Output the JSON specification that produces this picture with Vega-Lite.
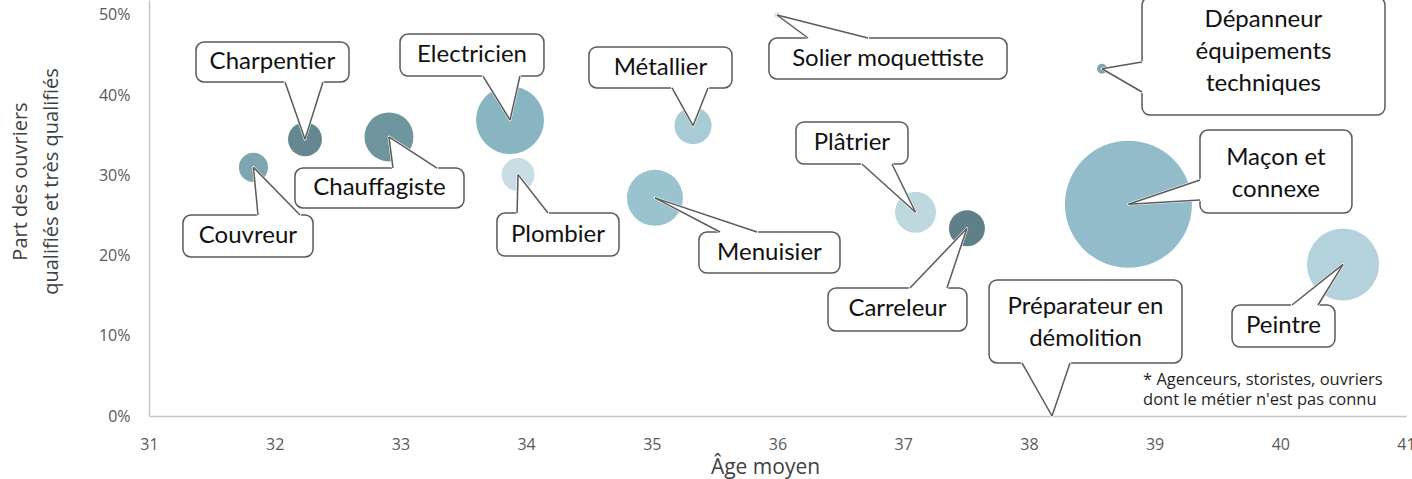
{
  "$schema": "https://vega.github.io/schema/vega-lite/v6.json",
  "width": 1257,
  "height": 416,
  "autosize": {"type": "none"},
  "padding": {"left": 149, "top": 0, "right": 6, "bottom": 63},
  "background": "white",
  "config": {"view": {"stroke": null}},
  "datasets": {
    "metiers": [
      {"metier": "Couvreur", "age": 31.831, "part": 0.310, "effectif": 5.3},
      {"metier": "Charpentier", "age": 32.241, "part": 0.345, "effectif": 7.2},
      {"metier": "Chauffagiste", "age": 32.909, "part": 0.348, "effectif": 15.0},
      {"metier": "Electricien", "age": 33.872, "part": 0.369, "effectif": 28.9},
      {"metier": "Plombier", "age": 33.936, "part": 0.301, "effectif": 6.8},
      {"metier": "Métallier", "age": 35.328, "part": 0.362, "effectif": 8.6},
      {"metier": "Menuisier", "age": 35.025, "part": 0.272, "effectif": 19.6},
      {"metier": "Solier moquettiste", "age": 35.996, "part": 0.500, "effectif": 0.2},
      {"metier": "Plâtrier", "age": 37.098, "part": 0.254, "effectif": 10.5},
      {"metier": "Carreleur", "age": 37.507, "part": 0.234, "effectif": 8.1},
      {"metier": "Dépanneur équipements techniques", "age": 38.581, "part": 0.433, "effectif": 0.6},
      {"metier": "Maçon et connexe", "age": 38.792, "part": 0.264, "effectif": 100.8},
      {"metier": "Peintre", "age": 40.499, "part": 0.189, "effectif": 32.4},
      {"metier": "Préparateur en démolition", "age": 38.184, "part": 0.0, "effectif": 0}
    ],
    "boxes": [
      {"label": "Charpentier", "x1": 31.374, "x2": 32.591, "y1": 0.4663, "y2": 0.4165, "xc": 31.982, "yc": 0.4414},
      {"label": "Electricien", "x1": 32.997, "x2": 34.142, "y1": 0.4763, "y2": 0.4239, "xc": 33.570, "yc": 0.4501},
      {"label": "Couvreur", "x1": 31.270, "x2": 32.305, "y1": 0.2506, "y2": 0.1983, "xc": 31.787, "yc": 0.2244},
      {"label": "Chauffagiste", "x1": 32.161, "x2": 33.506, "y1": 0.3092, "y2": 0.2594, "xc": 32.833, "yc": 0.2843},
      {"label": "Plombier", "x1": 33.768, "x2": 34.739, "y1": 0.2531, "y2": 0.1995, "xc": 34.253, "yc": 0.2263},
      {"label": "Métallier", "x1": 34.500, "x2": 35.638, "y1": 0.4601, "y2": 0.4090, "xc": 35.069, "yc": 0.4345},
      {"label": "Solier moquettiste", "x1": 35.932, "x2": 37.826, "y1": 0.4713, "y2": 0.4202, "xc": 36.879, "yc": 0.4457},
      {"label": "Menuisier", "x1": 35.375, "x2": 36.497, "y1": 0.2294, "y2": 0.1783, "xc": 35.936, "yc": 0.2038},
      {"label": "Plâtrier", "x1": 36.147, "x2": 37.038, "y1": 0.3666, "y2": 0.3142, "xc": 36.592, "yc": 0.3404},
      {"label": "Carreleur", "x1": 36.402, "x2": 37.507, "y1": 0.1596, "y2": 0.1060, "xc": 36.954, "yc": 0.1328},
      {"label": "Préparateur en\ndémolition", "x1": 37.683, "x2": 39.218, "y1": 0.1696, "y2": 0.0661, "xc": 38.450, "yc": 0.1359},
      {"label": "Dépanneur\néquipements\ntechniques", "x1": 38.900, "x2": 40.833, "y1": 0.5224, "y2": 0.3753, "xc": 39.866, "yc": 0.4938},
      {"label": "Maçon et\nconnexe", "x1": 39.361, "x2": 40.570, "y1": 0.3566, "y2": 0.2531, "xc": 39.965, "yc": 0.3217},
      {"label": "Peintre", "x1": 39.616, "x2": 40.435, "y1": 0.1384, "y2": 0.0860, "xc": 40.025, "yc": 0.1122}
    ],
    "tailsH": [
      {"id": "Charpentier", "y": 0.4165, "x": 32.082, "x2": 32.384},
      {"id": "Charpentier", "y": 0.345, "x": 32.241, "x2": 32.241},
      {"id": "Electricien", "y": 0.4239, "x": 33.657, "x2": 33.951},
      {"id": "Electricien", "y": 0.369, "x": 33.872, "x2": 33.872},
      {"id": "Couvreur", "y": 0.2506, "x": 31.867, "x2": 32.201},
      {"id": "Couvreur", "y": 0.310, "x": 31.831, "x2": 31.831},
      {"id": "Chauffagiste", "y": 0.3092, "x": 32.941, "x2": 33.291},
      {"id": "Chauffagiste", "y": 0.348, "x": 32.909, "x2": 32.909},
      {"id": "Plombier", "y": 0.2531, "x": 33.928, "x2": 34.174},
      {"id": "Plombier", "y": 0.301, "x": 33.936, "x2": 33.936},
      {"id": "Métallier", "y": 0.4090, "x": 35.161, "x2": 35.447},
      {"id": "Métallier", "y": 0.362, "x": 35.328, "x2": 35.328},
      {"id": "Solier", "y": 0.4713, "x": 36.243, "x2": 36.720},
      {"id": "Solier", "y": 0.500, "x": 35.996, "x2": 35.996},
      {"id": "Menuisier", "y": 0.2294, "x": 35.543, "x2": 35.837},
      {"id": "Menuisier", "y": 0.272, "x": 35.025, "x2": 35.025},
      {"id": "Plâtrier", "y": 0.3142, "x": 36.672, "x2": 36.911},
      {"id": "Plâtrier", "y": 0.254, "x": 37.098, "x2": 37.098},
      {"id": "Carreleur", "y": 0.1596, "x": 37.054, "x2": 37.348},
      {"id": "Carreleur", "y": 0.234, "x": 37.507, "x2": 37.507},
      {"id": "Préparateur", "y": 0.0661, "x": 37.945, "x2": 38.327},
      {"id": "Préparateur", "y": 0.0, "x": 38.184, "x2": 38.184},
      {"id": "Peintre", "y": 0.1384, "x": 40.093, "x2": 40.300},
      {"id": "Peintre", "y": 0.189, "x": 40.499, "x2": 40.499}
    ],
    "tailsV": [
      {"id": "Dépanneur", "x": 38.900, "y": 0.4414, "y2": 0.4040},
      {"id": "Dépanneur", "x": 38.581, "y": 0.433, "y2": 0.433},
      {"id": "Maçon", "x": 39.361, "y": 0.2943, "y2": 0.2693},
      {"id": "Maçon", "x": 38.792, "y": 0.264, "y2": 0.264}
    ],
    "notes": [
      {"note": "* Agenceurs, storistes, ouvriers\ndont le métier n'est pas connu", "x": 38.908, "y": 0.0387}
    ]
  },
  "layer": [
    {
      "data": {"name": "metiers"},
      "mark": {"type": "circle", "opacity": 1},
      "encoding": {
        "x": {
          "field": "age", "type": "quantitative",
          "scale": {"domain": [31, 41], "nice": false, "zero": false},
          "axis": {
            "values": [31, 32, 33, 34, 35, 36, 37, 38, 39, 40, 41],
            "format": "d",
            "grid": false, "ticks": false,
            "domainColor": "#c6c6c6", "domainWidth": 1.5,
            "labelFont": "Open Sans", "labelFontSize": 16, "labelColor": "#595959",
            "labelPadding": 20, "labelFlush": false,
            "title": "Âge moyen", "titleFont": "Open Sans", "titleFontSize": 21,
            "titleFontWeight": "normal", "titleColor": "#404040",
            "titleAnchor": null, "titleAlign": "center", "titleBaseline": "alphabetic",
            "titleX": 616, "titleY": 57
          }
        },
        "y": {
          "field": "part", "type": "quantitative",
          "scale": {"domain": [0, 0.5187], "nice": false},
          "axis": {
            "values": [0, 0.1, 0.2, 0.3, 0.4, 0.5],
            "format": ".0%",
            "grid": false, "ticks": false,
            "domainColor": "#c6c6c6", "domainWidth": 1.5,
            "labelFont": "Open Sans", "labelFontSize": 16, "labelColor": "#595959",
            "labelPadding": 19, "labelFlush": false,
            "title": ["Part des ouvriers", "qualifiés et très qualifiés"],
            "titleFont": "Open Sans", "titleFontSize": 20, "titleFontWeight": "normal",
            "titleColor": "#404040", "titleLineHeight": 31,
            "titleAnchor": null, "titleAlign": "center", "titleBaseline": "alphabetic",
            "titleAngle": 270, "titleX": -123, "titleY": 181
          }
        },
        "size": {
          "field": "effectif", "type": "quantitative",
          "scale": {"type": "linear", "domain": [0, 100], "range": [0, 16000], "zero": true},
          "legend": null
        },
        "color": {
          "field": "metier", "type": "nominal",
          "scale": {
            "domain": ["Couvreur", "Charpentier", "Chauffagiste", "Electricien", "Plombier", "Métallier", "Menuisier", "Solier moquettiste", "Plâtrier", "Carreleur", "Dépanneur équipements techniques", "Maçon et connexe", "Peintre", "Préparateur en démolition"],
            "range": ["#7DA6B0", "#658791", "#6F959F", "#89B4C2", "#C9DEE4", "#A8CBD5", "#98C3CF", "#D3E5EA", "#BDD8DF", "#5F7F89", "#7DA6B0", "#92BCCA", "#B4D2DB", "#9FBFC9"]
          },
          "legend": null
        }
      }
    },
    {
      "data": {"name": "boxes"},
      "mark": {"type": "rect", "fill": "white", "stroke": "#5a5a5a", "strokeWidth": 1.5, "cornerRadius": 8},
      "encoding": {
        "x": {"field": "x1", "type": "quantitative"},
        "x2": {"field": "x2"},
        "y": {"field": "y1", "type": "quantitative"},
        "y2": {"field": "y2"}
      }
    },
    {
      "data": {"name": "tailsH"},
      "mark": {"type": "area", "orient": "horizontal", "fill": "white", "stroke": "white", "strokeWidth": 2.5, "strokeJoin": "round", "opacity": 1},
      "encoding": {
        "y": {"field": "y", "type": "quantitative"},
        "x": {"field": "x", "type": "quantitative", "stack": null},
        "x2": {"field": "x2"},
        "detail": {"field": "id", "type": "nominal"}
      }
    },
    {
      "data": {"name": "tailsV"},
      "mark": {"type": "area", "orient": "vertical", "fill": "white", "stroke": "white", "strokeWidth": 2.5, "strokeJoin": "round", "opacity": 1},
      "encoding": {
        "x": {"field": "x", "type": "quantitative"},
        "y": {"field": "y", "type": "quantitative", "stack": null},
        "y2": {"field": "y2"},
        "detail": {"field": "id", "type": "nominal"}
      }
    },
    {
      "data": {"name": "tailsH"},
      "mark": {"type": "line", "color": "#5a5a5a", "strokeWidth": 1.5},
      "encoding": {
        "y": {"field": "y", "type": "quantitative"},
        "x": {"field": "x", "type": "quantitative"},
        "detail": {"field": "id", "type": "nominal"}
      }
    },
    {
      "data": {"name": "tailsH"},
      "mark": {"type": "line", "color": "#5a5a5a", "strokeWidth": 1.5},
      "encoding": {
        "y": {"field": "y", "type": "quantitative"},
        "x": {"field": "x2", "type": "quantitative"},
        "detail": {"field": "id", "type": "nominal"}
      }
    },
    {
      "data": {"name": "tailsV"},
      "mark": {"type": "line", "color": "#5a5a5a", "strokeWidth": 1.5},
      "encoding": {
        "x": {"field": "x", "type": "quantitative"},
        "y": {"field": "y", "type": "quantitative"},
        "detail": {"field": "id", "type": "nominal"}
      }
    },
    {
      "data": {"name": "tailsV"},
      "mark": {"type": "line", "color": "#5a5a5a", "strokeWidth": 1.5},
      "encoding": {
        "x": {"field": "x", "type": "quantitative"},
        "y": {"field": "y2", "type": "quantitative"},
        "detail": {"field": "id", "type": "nominal"}
      }
    },
    {
      "data": {"name": "boxes"},
      "mark": {"type": "text", "font": "Lato", "fontSize": 24, "color": "#111111", "align": "center", "baseline": "middle", "lineBreak": "\n", "lineHeight": 32},
      "encoding": {
        "x": {"field": "xc", "type": "quantitative"},
        "y": {"field": "yc", "type": "quantitative"},
        "text": {"field": "label", "type": "nominal"}
      }
    },
    {
      "data": {"name": "notes"},
      "mark": {"type": "text", "font": "Open Sans", "fontSize": 16.5, "color": "#1f1f1f", "align": "left", "baseline": "alphabetic", "lineBreak": "\n", "lineHeight": 20},
      "encoding": {
        "x": {"field": "x", "type": "quantitative"},
        "y": {"field": "y", "type": "quantitative"},
        "text": {"field": "note", "type": "nominal"}
      }
    }
  ]
}
